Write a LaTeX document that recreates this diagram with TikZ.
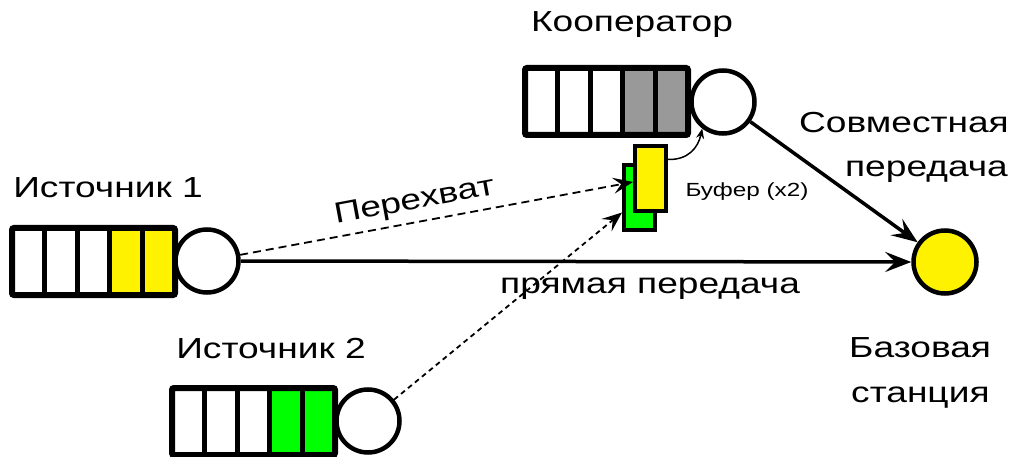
\documentclass[tikz,border=0pt]{standalone}
\usepackage{fontspec}
\setmainfont{Liberation Sans}[FakeStretch=1.28]
\usetikzlibrary{arrows.meta}
\tikzset{
  qframe/.style={line width=6pt, rounded corners=2pt},
  qdiv/.style={line width=5pt},
  srv/.style={circle, draw, line width=4.5pt, minimum size=63pt, inner sep=0pt, fill=white},
  lbl/.style={font=\fontsize{29}{44}\selectfont, inner sep=0pt},
  smalllbl/.style={font=\fontsize{19}{22}\selectfont, inner sep=0pt},
  bufbox/.style={draw, line width=4pt, minimum width=31pt, minimum height=65pt, inner sep=0pt},
  thickarrow/.style={line width=3.5pt, -{Stealth[length=26pt,width=20pt,inset=10pt]}},
  dasharrow/.style={line width=1.8pt, dash pattern=on 8pt off 5pt, -{Stealth[length=20pt,width=16pt,inset=8pt]}},
  dotarrow/.style={line width=1.8pt, dash pattern=on 5pt off 4pt, -{Stealth[length=20pt,width=16pt,inset=8pt]}},
  thinarrow/.style={line width=1.5pt, -{Stealth[length=10pt,width=8pt]}},
}
\newcommand\myqueue[3]{%
  \fill[white] (#1,#2) rectangle ({#1+97.8},{#2+67});
  \fill[#3] ({#1+97.8},#2) rectangle ({#1+163},{#2+67});
  \foreach \k in {1,2,3,4} {\draw[qdiv] ({#1+32.6*\k},#2) -- ({#1+32.6*\k},{#2+67});}
  \draw[qframe] (#1,#2) rectangle ({#1+163},{#2+67});
}
\begin{document}
\begin{tikzpicture}[x=1pt,y=-1pt]
\useasboundingbox (0,0) rectangle (1012,457);
% queues
\myqueue{12}{228}{yellow}
\myqueue{172}{388}{green}
\myqueue{525}{68}{gray!80}
% servers
\node[srv] (s1) at (207,261) {};
\node[srv] (s2) at (368,421) {};
\node[srv] (coop) at (723,102) {};
\node[srv, fill=yellow] (bs) at (945,262) {};
% buffer
\node[bufbox, fill=green] (grn) at (639.5,197.5) {};
\node[bufbox, fill=yellow] (yel) at (650.5,179) {};
% connectors
\draw[thickarrow] (s1.east) -- (bs.west);
\draw[thickarrow] (coop) -- (bs);
\draw[dasharrow] (s1) -- ([yshift=-3pt]yel.west);
\draw[dotarrow] (s2) -- ([yshift=-15pt]grn.west);
\draw[thinarrow] ([yshift=-15pt]yel.north east) .. controls (688,160) and (698,148) .. (coop.-128);
% labels
\node[lbl, anchor=base] (tcoop) at (632,32) {Кооператор};
\node[lbl, anchor=base] (ts1) at (108,198) {Источник 1};
\node[lbl, anchor=base] (ts2) at (271,358) {Источник 2};
\node[lbl, anchor=base] (tdir) at (650,293) {прямая передача};
\node[lbl, anchor=base, rotate=10.5] (tint) at (416,209) {Перехват};
\node[smalllbl, anchor=base] (tbuf) at (747,197) {Буфер (x2)};
\node[lbl, anchor=base east] (tjoint1) at (1009,133) {Совместная};
\node[lbl, anchor=base east] (tjoint2) at (1008,177) {передача};
\node[lbl, anchor=base west] (tbs1) at (849,357) {Базовая};
\node[lbl, anchor=base west] (tbs2) at (851,402) {станция};
\end{tikzpicture}
\end{document}
